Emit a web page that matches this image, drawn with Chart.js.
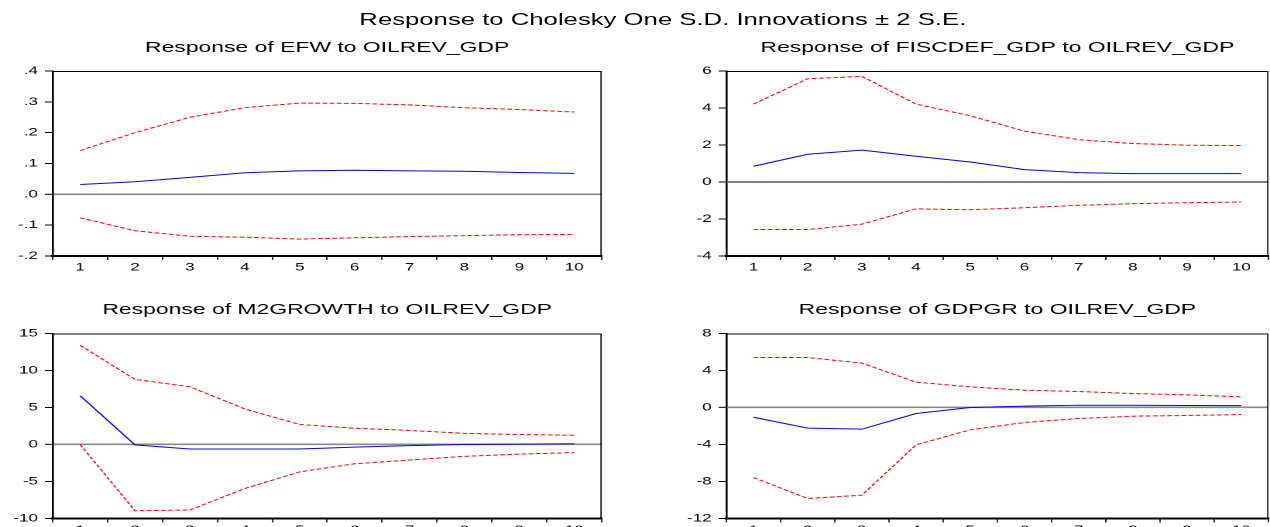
<!DOCTYPE html>
<html>
<head>
<meta charset="utf-8">
<script src="https://cdn.jsdelivr.net/npm/chart.js@4"></script>
<style>
html, body { margin: 0; padding: 0; background: #fff; overflow: hidden; width: 1270px; height: 527px; }
#stage { position: absolute; left: 0; top: 0; width: 820px; height: 560px; transform-origin: 0 0; }
#stage canvas { position: absolute; }
#mainTitle { position: absolute; left: 232px; top: 12.3px; color: #000;
	font: 16.6px "Liberation Sans", Arial, sans-serif; line-height: 16.6px; white-space: nowrap; }
</style>
</head>
<body>
<div id="stage">
	<div id="mainTitle">Response to Cholesky One S.D. Innovations ± 2 S.E.</div>
	<canvas id="efwChart"></canvas>
	<canvas id="fiscChart"></canvas>
	<canvas id="m2Chart"></canvas>
	<canvas id="gdpChart"></canvas>
</div>
<script>
const periods = ['1', '2', '3', '4', '5', '6', '7', '8', '9', '10'];

// Response of EFW
const efwResp  = [0.032, 0.041, 0.055, 0.070, 0.076, 0.078, 0.076, 0.075, 0.071, 0.068];
const efwUpper = [0.142, 0.200, 0.250, 0.281, 0.296, 0.295, 0.290, 0.281, 0.275, 0.267];
const efwLower = [-0.076, -0.118, -0.136, -0.139, -0.145, -0.141, -0.137, -0.134, -0.131, -0.130];

// Response of FISCDEF_GDP
const fiscResp  = [0.85, 1.50, 1.72, 1.39, 1.08, 0.67, 0.51, 0.45, 0.45, 0.45];
const fiscUpper = [4.21, 5.58, 5.71, 4.21, 3.58, 2.75, 2.29, 2.08, 1.99, 1.97];
const fiscLower = [-2.57, -2.57, -2.28, -1.45, -1.50, -1.39, -1.26, -1.17, -1.12, -1.08];

// Response of M2GROWTH
const m2Resp  = [6.6, -0.05, -0.6, -0.6, -0.6, -0.35, -0.15, 0.0, 0.05, 0.1];
const m2Upper = [13.4, 8.8, 7.8, 4.8, 2.7, 2.2, 1.9, 1.5, 1.35, 1.25];
const m2Lower = [0.0, -8.95, -8.85, -5.95, -3.7, -2.6, -2.1, -1.6, -1.3, -1.1];

// Response of GDPGR
const gdpResp  = [-1.05, -2.23, -2.34, -0.65, 0.0, 0.15, 0.25, 0.25, 0.22, 0.2];
const gdpUpper = [5.4, 5.4, 4.8, 2.74, 2.23, 1.87, 1.73, 1.51, 1.37, 1.15];
const gdpLower = [-7.57, -9.84, -9.48, -4.04, -2.41, -1.62, -1.19, -0.94, -0.86, -0.76];

// the whole picture is horizontally stretched, so draw narrow and scale the stage
const STAGE_W = 820;
const S = 1270 / STAGE_W;
document.querySelector('#stage').style.transform = `scaleX(${S})`;

const FONT = '"Liberation Sans", Arial, sans-serif';
const TITLE_SIZE = 14.8;
const Y_AXIS_W = 36;
const X_AXIS_H = 30;

const framePlugin = {
	id: 'frame',
	afterDatasetsDraw(chart) {
		const { ctx, chartArea: a } = chart;
		ctx.save();
		ctx.strokeStyle = '#000';
		ctx.lineWidth = 1;
		ctx.beginPath();
		ctx.moveTo(a.left, a.top + 0.5);
		ctx.lineTo(a.right, a.top + 0.5);
		ctx.stroke();
		ctx.lineWidth = 0.8;
		ctx.beginPath();
		ctx.moveTo(a.right - 0.4, a.top);
		ctx.lineTo(a.right - 0.4, a.bottom);
		ctx.stroke();
		ctx.restore();
	}
};

const dotLabel = v => v.toFixed(1).replace(/^(-?)0\./, '$1.');
const intLabel = v => String(Math.round(v));

// box = plot area in page pixels (before the stage stretch)
const makePanel = (id, title, resp, upper, lower, yOpts, box) => {
	const canvas = document.getElementById(id);
	const plotL = box.left / S, plotR = box.right / S;
	const canvasLeft = plotL - Y_AXIS_W;
	const canvasTop = box.titleY - 12;
	const width = Math.ceil(plotR - canvasLeft + 4);
	const height = Math.ceil(box.bottom - canvasTop + X_AXIS_H);
	canvas.width = width;
	canvas.height = height;
	canvas.style.left = canvasLeft + 'px';
	canvas.style.top = canvasTop + 'px';

	const lh = TITLE_SIZE * 1.2;
	const titlePadTop = box.titleY - lh / 2 - canvasTop;
	const titlePadBottom = box.top - (box.titleY + lh / 2);
	const isZero = v => Math.abs(v) < 1e-9;

	const band = data => ({
		data: data,
		borderColor: '#ff0000',
		borderWidth: 1,
		borderDash: [3, 1.6],
		pointRadius: 0,
		fill: false,
	});

	return new Chart(canvas, {
		type: 'line',
		data: {
			labels: periods,
			datasets: [
				band(upper),
				band(lower),
				{
					data: resp,
					borderColor: '#0000ff',
					borderWidth: 1,
					pointRadius: 0,
					fill: false,
				},
			]
		},
		options: {
			responsive: false,
			animation: false,
			devicePixelRatio: 2,
			layout: { padding: { left: 0, right: width - (plotR - canvasLeft), top: 0, bottom: height - (box.bottom - canvasTop) - X_AXIS_H } },
			plugins: {
				legend: { display: false },
				tooltip: { enabled: false },
				title: {
					display: true,
					fullSize: false,
					text: title,
					color: '#000',
					font: { family: FONT, size: TITLE_SIZE, weight: 'normal' },
					padding: { top: titlePadTop, bottom: titlePadBottom },
				},
			},
			scales: {
				x: {
					offset: true,
					grid: {
						offset: true,
						drawOnChartArea: false,
						tickLength: 4,
						tickColor: '#000',
						tickWidth: 0.8,
					},
					border: { display: true, color: '#000', width: 2 },
					ticks: {
						color: '#000',
						padding: 1,
						maxRotation: 0,
						autoSkip: false,
						font: { family: FONT, size: 11 },
					},
					afterFit: scale => { scale.height = X_AXIS_H; },
				},
				y: {
					min: yOpts.min,
					max: yOpts.max,
					grid: {
						drawOnChartArea: true,
						color: ctx => isZero(ctx.tick.value) ? yOpts.zeroColor : 'rgba(0,0,0,0)',
						lineWidth: ctx => isZero(ctx.tick.value) ? yOpts.zeroWidth : 0,
						tickLength: 5,
						tickColor: '#000',
						tickWidth: 1,
					},
					border: { display: true, color: '#000', width: 1.3 },
					ticks: {
						stepSize: yOpts.step,
						color: '#000',
						padding: 4.5,
						font: { family: FONT, size: 11 },
						callback: yOpts.label,
					},
					afterFit: scale => { scale.width = Y_AXIS_W; },
				},
			},
		},
		plugins: [framePlugin],
	});
};

makePanel('efwChart', 'Response of EFW to OILREV_GDP', efwResp, efwUpper, efwLower,
	{ min: -0.2, max: 0.4, step: 0.1, label: dotLabel, zeroColor: '#888888', zeroWidth: 1.6 },
	{ left: 52, right: 601, top: 71, bottom: 256, titleY: 48 });

makePanel('fiscChart', 'Response of FISCDEF_GDP to OILREV_GDP', fiscResp, fiscUpper, fiscLower,
	{ min: -4, max: 6, step: 2, label: intLabel, zeroColor: '#000000', zeroWidth: 1 },
	{ left: 727, right: 1269, top: 71, bottom: 256, titleY: 48 });

makePanel('m2Chart', 'Response of M2GROWTH to OILREV_GDP', m2Resp, m2Upper, m2Lower,
	{ min: -10, max: 15, step: 5, label: intLabel, zeroColor: '#888888', zeroWidth: 1.6 },
	{ left: 52, right: 601, top: 333, bottom: 518, titleY: 309.5 });

makePanel('gdpChart', 'Response of GDPGR to OILREV_GDP', gdpResp, gdpUpper, gdpLower,
	{ min: -12, max: 8, step: 4, label: intLabel, zeroColor: '#888888', zeroWidth: 1.6 },
	{ left: 727, right: 1269, top: 333, bottom: 518, titleY: 309.5 });
</script>
</body>
</html>
